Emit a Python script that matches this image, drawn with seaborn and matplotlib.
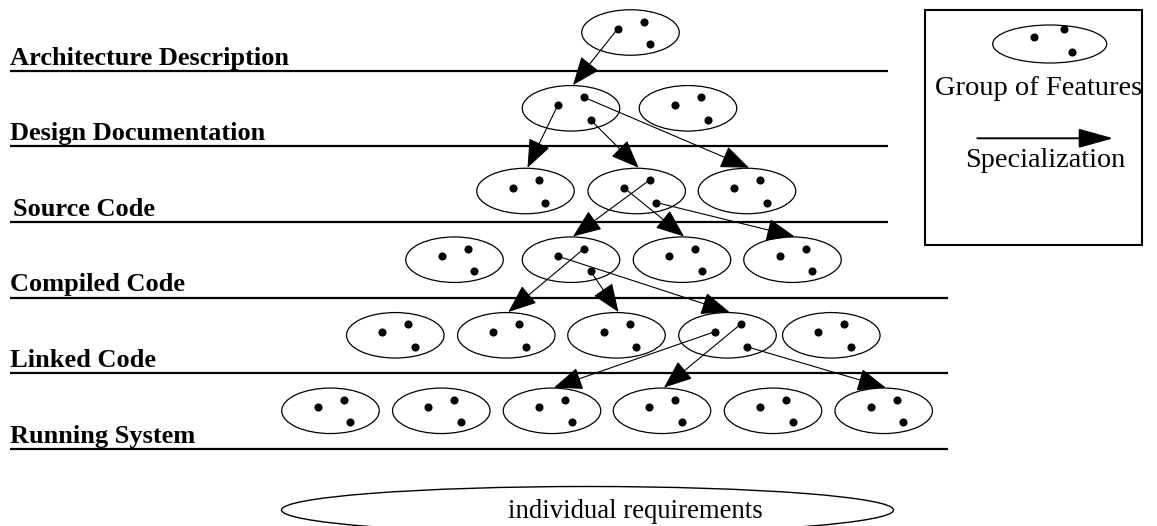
import matplotlib
matplotlib.use("Agg")
import matplotlib.pyplot as plt
from matplotlib.patches import Ellipse, Rectangle
import numpy as np
import pandas as pd
import seaborn as sns

# ---------------- data ----------------
layer_names = ["Architecture Description", "Design Documentation", "Source Code",
               "Compiled Code", "Linked Code", "Running System"]
layer_line_y = [70.7, 145.7, 221.7, 297.5, 372.7, 448.5]
layer_line_end = [888, 888, 888, 948, 948, 948]
layer_label_x = [10, 10, 13, 10, 10, 10]

group_row_y = [32.5, 108.3, 191.0, 259.7, 335.3, 410.8]
group_x = [
    [630.5],
    [571.0, 688.0],
    [525.5, 636.7, 747.0],
    [454.5, 571.0, 682.0, 792.5],
    [395.3, 506.3, 616.5, 727.5, 831.3],
    [330.5, 441.3, 552.0, 662.0, 773.0, 883.7],
]
# three features inside each group (offset from the group centre)
feature_dx = [-13.0, 13.0, 19.5]
feature_dy = [-3.5, -11.0, 11.5]

# specialization arrows: (source row, source group, source feature, target group)
arrow_src_row = [0, 1, 1, 1, 2, 2, 2, 3, 3, 3, 4, 4, 4]
arrow_src_grp = [0, 0, 0, 0, 1, 1, 1, 1, 1, 1, 3, 3, 3]
arrow_src_feat = [0, 0, 2, 1, 1, 0, 2, 1, 2, 0, 0, 1, 2]
arrow_dst_grp = [0, 0, 1, 2, 1, 2, 3, 1, 2, 3, 2, 3, 5]

legend_group_label = "Group of Features"
legend_arrow_label = "Specialization"
bottom_label = "individual requirements"

# ---------------- style ----------------
sns.set_theme(style="white")
plt.rcParams["font.family"] = ["Liberation Serif", "DejaVu Serif"]

W, H = 1157, 526
fig = plt.figure(figsize=(W / 100, H / 100), dpi=100)
ax = fig.add_axes([0, 0, 1, 1])
ax.set_xlim(0, W)
ax.set_ylim(H, 0)
ax.axis("off")

GW, GH = 97.5, 45.5

# layer lines and labels
for name, ly, lend, lx in zip(layer_names, layer_line_y, layer_line_end, layer_label_x):
    ax.plot([10, lend], [ly, ly], color="black", lw=1.6, solid_capstyle="butt")
    ax.text(lx, ly - 6, name, fontsize=19, fontweight="bold", ha="left",
            va="baseline", color="black")

# groups
rows = []
for r, (cy, xs) in enumerate(zip(group_row_y, group_x)):
    for g, cx in enumerate(xs):
        ax.add_patch(Ellipse((cx, cy), GW, GH, fill=False, lw=0.9, color="black"))
        for f, (dx, dy) in enumerate(zip(feature_dx, feature_dy)):
            rows.append({"x": cx + dx, "y": cy + dy})
dots = pd.DataFrame(rows)
sns.scatterplot(data=dots, x="x", y="y", s=34, color="black", linewidth=0, ax=ax,
                legend=False)
ax.set_xlim(0, W)
ax.set_ylim(H, 0)
ax.axis("off")

# arrows
for sr, sg, sf, dg in zip(arrow_src_row, arrow_src_grp, arrow_src_feat, arrow_dst_grp):
    x0 = group_x[sr][sg] + feature_dx[sf]
    y0 = group_row_y[sr] + feature_dy[sf]
    x1 = group_x[sr + 1][dg] + 2
    y1 = group_row_y[sr + 1] - GH / 2 - 0.5
    ax.annotate("", xy=(x1, y1), xytext=(x0, y0),
                arrowprops=dict(arrowstyle="-|>,head_length=0.9,head_width=0.36",
                                mutation_scale=20, lw=0.8, color="black",
                                shrinkA=0, shrinkB=0))

# legend box
ax.add_patch(Rectangle((924.5, 9.5), 1142 - 924.5, 245 - 9.5, fill=False, lw=1.5,
                       color="black"))
lcx, lcy = 1049.7, 44.0
ax.add_patch(Ellipse((lcx, lcy), 114, 38, fill=False, lw=0.9, color="black"))
ax.scatter([lcx - 15.4, lcx + 14.6, lcx + 22.6], [lcy - 7.3, lcy - 14.7, lcy + 7.7],
           s=34, color="black", linewidth=0)
ax.text(1038.5, 95, legend_group_label, fontsize=20.5, ha="center", va="baseline",
        color="black")
ax.annotate("", xy=(1113.3, 138.3), xytext=(977.3, 138.3),
            arrowprops=dict(arrowstyle="-|>,head_length=1.08,head_width=0.3",
                            mutation_scale=20, lw=1.4, color="black",
                            shrinkA=0, shrinkB=0))
ax.text(1045, 166.7, legend_arrow_label, fontsize=20.3, ha="center", va="baseline",
        color="black")

# bottom ellipse
ax.add_patch(Ellipse((587.5, 510), 612, 47, fill=False, lw=1.0, color="black"))
ax.text(635, 518, bottom_label, fontsize=19.3, ha="center", va="baseline",
        color="black")

fig.savefig("out.png", dpi=100, facecolor="white")
